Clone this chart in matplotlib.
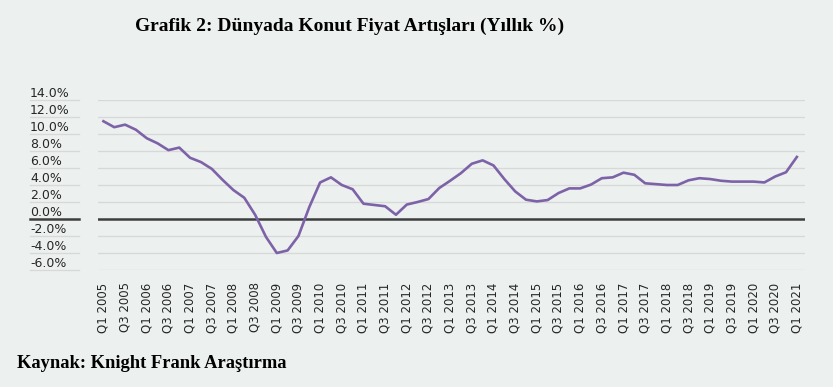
import matplotlib.pyplot as plt
import numpy as np

# quarterly labels Q1 2005 .. Q1 2021
years = list(range(2005, 2022))
quarters = []
for y in years:
    for q in range(1, 5):
        quarters.append("Q%d %d" % (q, y))
quarters = quarters[:65]

# annual house price growth (%)
growth = [11.5, 10.8, 11.1, 10.5, 9.5, 8.9, 8.1, 8.4, 7.2, 6.7,
          5.9, 4.6, 3.4, 2.5, 0.5, -2.1, -4.0, -3.7, -2.0, 1.4,
          4.3, 4.9, 4.0, 3.5, 1.8, 1.65, 1.5, 0.5, 1.7, 2.0,
          2.35, 3.65, 4.5, 5.4, 6.5, 6.9, 6.3, 4.7, 3.25, 2.27,
          2.07, 2.23, 3.05, 3.6, 3.6, 4.05, 4.8, 4.9, 5.45, 5.2,
          4.2, 4.1, 4.0, 4.0, 4.55, 4.8, 4.7, 4.5, 4.4, 4.4,
          4.4, 4.3, 5.0, 5.5, 7.3]

yticks = [14, 12, 10, 8, 6, 4, 2, 0, -2, -4, -6]
ylabels = ["%.1f%%" % v for v in yticks]

bg = '#ECF1EF'
fig = plt.figure(figsize=(8.33, 3.87), dpi=100)
fig.patch.set_facecolor(bg)
ax = fig.add_axes([98/833, 1-270/387, 707/833, 170/387])
ax.set_facecolor(bg)

x = np.arange(len(growth))
ax.plot(x, growth, color='#7D62A8', lw=1.9, zorder=3)

ax.set_xlim(-0.5, 64.75)
ax.set_ylim(-6, 14)

# grid lines (and the short underlines under the y labels)
for v in yticks:
    c = '#3E3E3E' if v == 0 else '#D8D8D8'
    w = 1.8 if v == 0 else 1.0
    ax.axhline(v, color=c, lw=w, zorder=2)
    ax.plot([-0.0962, -0.0269], [v, v], transform=ax.get_yaxis_transform(),
            color=c, lw=w, clip_on=False)

ax.set_yticks(yticks)
ax.set_yticklabels(ylabels, fontsize=9, color='#262626')
for t in ax.get_yticklabels():
    t.set_ha('left')
    t.set_va('bottom')
ax.tick_params(axis='y', length=0, pad=49)

ax.set_xticks(x[::2])
ax.set_xticklabels(quarters[::2], rotation=90, fontsize=8.5, color='#262626')
ax.tick_params(axis='x', length=0, pad=9)

for s in ax.spines.values():
    s.set_visible(False)

fig.text(350/833, 1-26/387, "Grafik 2: Dünyada Konut Fiyat Artışları (Yıllık %)",
         fontfamily='Liberation Serif', fontweight='bold', fontsize=14,
         ha='center', va='center')
fig.text(17/833, 1-363/387, "Kaynak: Knight Frank Araştırma",
         fontfamily='Liberation Serif', fontweight='bold', fontsize=13.3,
         ha='left', va='center')

fig.savefig('out.png', dpi=100, facecolor=bg)
